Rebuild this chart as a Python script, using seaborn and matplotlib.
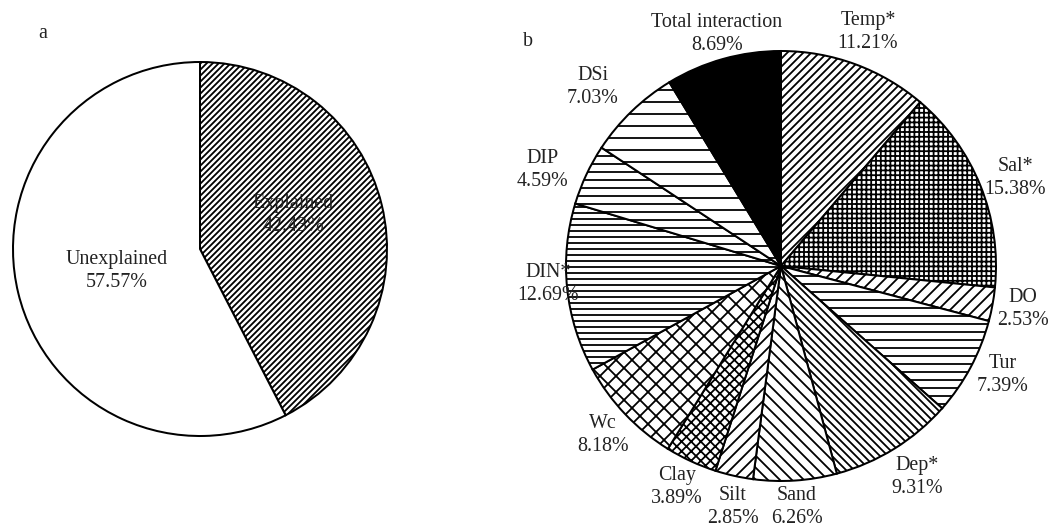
import matplotlib
matplotlib.use("Agg")
import matplotlib.pyplot as plt
import seaborn as sns

sns.set_theme(style="white")
plt.rcParams["font.family"] = ["Liberation Serif", "DejaVu Serif"]
plt.rcParams["hatch.linewidth"] = 0.9
plt.rcParams["hatch.color"] = "black"

# Panel a: explained vs unexplained variance
a_labels = ["Explained", "Unexplained"]
a_values = [42.43, 57.57]
a_hatches = ["/" * 8, ""]

# Panel b: contribution of each factor
b_labels = ["Temp*", "Sal*", "DO", "Tur", "Dep*", "Sand", "Silt",
            "Clay", "Wc", "DIN*", "DIP", "DSi", "Total interaction"]
b_values = [11.21, 15.38, 2.53, 7.39, 9.31, 6.26, 2.85,
            3.89, 8.18, 12.69, 4.59, 7.03, 8.69]
b_hatches = ["/" * 6, "+" * 5, "/" * 4, "-" * 3, "\\" * 6, "\\" * 4,
             "/" * 4, "x" * 5, "x" * 3, "-" * 4, "-" * 3, "-" * 2, ""]
b_colors = ["white"] * 12 + ["black"]

W, H, DPI = 1051, 527, 144
fig = plt.figure(figsize=(W / DPI, H / DPI), dpi=DPI)
fig.patch.set_facecolor("white")


def pie_axes(cx, cy, r):
    """Square axes whose unit circle sits at pixel centre (cx, cy), radius r."""
    return fig.add_axes([(cx - r) / W, 1 - (cy + r) / H, 2 * r / W, 2 * r / H])


def place(ax, cx, cy, r, px, py, text, **kw):
    ax.text((px - cx) / r, -(py - cy) / r, text, ha="center", va="center",
            fontsize=10, color="#222222", linespacing=1.25, clip_on=False, **kw)


# ---- panel a ----
cxa, cya, ra = 200, 249, 187
axa = pie_axes(cxa, cya, ra)
wa, _ = axa.pie(a_values, startangle=90, counterclock=False,
                colors=["white", "white"],
                wedgeprops=dict(edgecolor="black", linewidth=1.0))
for w, h in zip(wa, a_hatches):
    w.set_hatch(h)
axa.set_xlim(-1, 1)
axa.set_ylim(-1, 1)
axa.set_aspect("equal")
axa.axis("off")
a_pos = [(293, 215), (117, 271)]
for (px, py), lab, v in zip(a_pos, a_labels, a_values):
    place(axa, cxa, cya, ra, px, py, f"{lab}\n{v:.2f}%")

# ---- panel b ----
cxb, cyb, rb = 781, 266, 215
axb = pie_axes(cxb, cyb, rb)
wb, _ = axb.pie(b_values, startangle=90, counterclock=False,
                colors=b_colors,
                wedgeprops=dict(edgecolor="black", linewidth=1.0))
for w, h in zip(wb, b_hatches):
    w.set_hatch(h)
axb.set_xlim(-1, 1)
axb.set_ylim(-1, 1)
axb.set_aspect("equal")
axb.axis("off")
b_pos = [(868, 32), (1015, 178), (1023, 309), (1003, 375), (917, 477),
         (797, 507), (733, 507), (677, 487), (603, 435), (548, 284),
         (542, 170), (593, 87), (717, 34)]
for (px, py), lab, v in zip(b_pos, b_labels, b_values):
    place(axb, cxb, cyb, rb, px, py, f"{lab}\n{v:.2f}%")

# panel letters
fig.text(43 / W, 1 - 33 / H, "a", ha="center", va="center", fontsize=10,
         color="#222222")
fig.text(528 / W, 1 - 42 / H, "b", ha="center", va="center", fontsize=10,
         color="#222222")

fig.savefig("out.png", dpi=DPI, facecolor="white")
